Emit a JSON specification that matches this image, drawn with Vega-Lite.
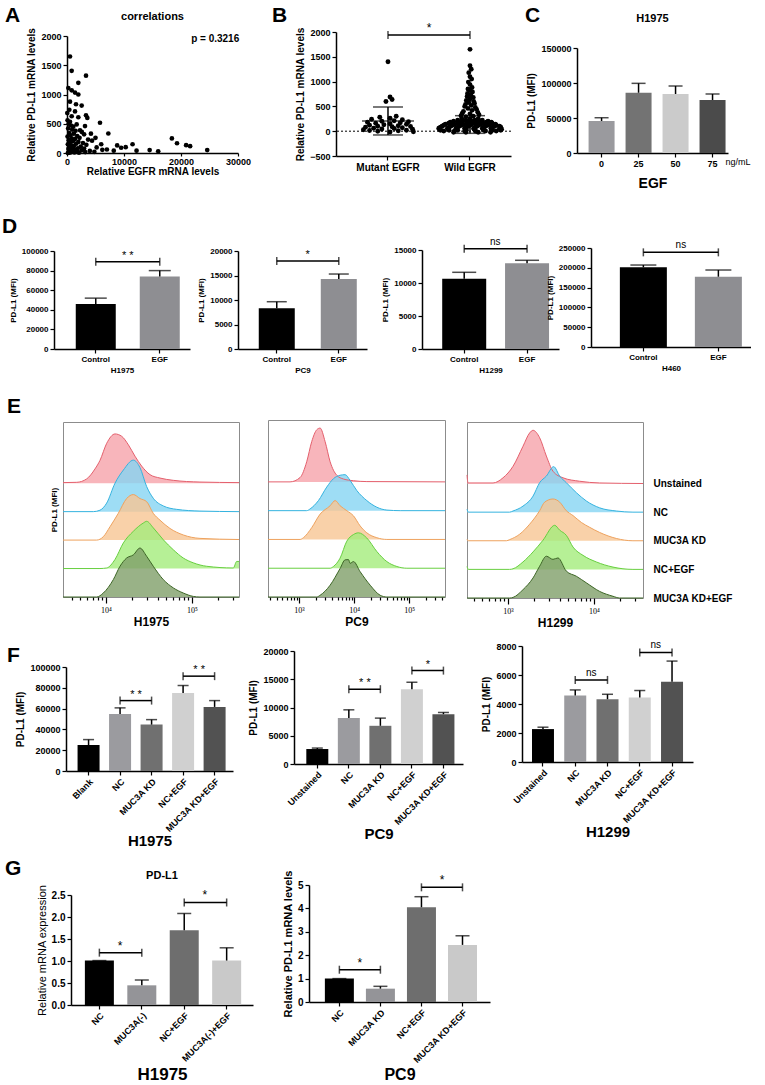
{
"$schema":"https://vega.github.io/schema/vega-lite/v6.json",
"background":"white",
"padding":0,
"spacing":0,
"bounds":"flush",
"resolve":{"scale":{"color":"independent","fill":"independent","stroke":"independent"}},
"config":{
 "font":"Liberation Sans",
 "view":{"stroke":null},
 "mark":{"color":"#000"},
 "axis":{"grid":false,"domainColor":"#000","domainWidth":1.5,"tickColor":"#000","tickWidth":1.2,"tickSize":4,"labelColor":"#000","labelFontWeight":"bold","labelFontSize":9,"titleFontWeight":"bold","titleFontSize":10,"titleColor":"#000","labelPadding":2,"titlePadding":4,"labelOverlap":false,"labelFlush":false},
 "title":{"fontWeight":"bold","color":"#000","fontSize":11},
 "text":{"color":"#000"}
},
"datasets":{
 "a_pts":[{"egfr":526,"pdl1":1650},{"egfr":820,"pdl1":1405},{"egfr":3333,"pdl1":1322},{"egfr":1988,"pdl1":1200},{"egfr":234,"pdl1":1111},{"egfr":820,"pdl1":1072},{"egfr":1404,"pdl1":1033},{"egfr":1988,"pdl1":1000},{"egfr":526,"pdl1":878},{"egfr":1579,"pdl1":833},{"egfr":2573,"pdl1":811},{"egfr":409,"pdl1":739},{"egfr":1404,"pdl1":711},{"egfr":50,"pdl1":683},{"egfr":820,"pdl1":628},{"egfr":1988,"pdl1":611},{"egfr":3333,"pdl1":644},{"egfr":3567,"pdl1":600},{"egfr":5789,"pdl1":517},{"egfr":7250,"pdl1":333},{"egfr":526,"pdl1":533},{"egfr":1696,"pdl1":489},{"egfr":3158,"pdl1":461},{"egfr":2281,"pdl1":389},{"egfr":100,"pdl1":560},{"egfr":300,"pdl1":500},{"egfr":700,"pdl1":470},{"egfr":1100,"pdl1":450},{"egfr":200,"pdl1":420},{"egfr":900,"pdl1":400},{"egfr":1500,"pdl1":380},{"egfr":2600,"pdl1":360},{"egfr":400,"pdl1":340},{"egfr":1200,"pdl1":330},{"egfr":3000,"pdl1":320},{"egfr":600,"pdl1":300},{"egfr":1800,"pdl1":290},{"egfr":100,"pdl1":280},{"egfr":2200,"pdl1":260},{"egfr":800,"pdl1":250},{"egfr":1400,"pdl1":240},{"egfr":3700,"pdl1":230},{"egfr":300,"pdl1":220},{"egfr":4400,"pdl1":210},{"egfr":1000,"pdl1":200},{"egfr":2000,"pdl1":190},{"egfr":500,"pdl1":180},{"egfr":2800,"pdl1":170},{"egfr":1600,"pdl1":160},{"egfr":150,"pdl1":150},{"egfr":3400,"pdl1":140},{"egfr":700,"pdl1":130},{"egfr":1200,"pdl1":120},{"egfr":2400,"pdl1":110},{"egfr":400,"pdl1":100},{"egfr":5200,"pdl1":95},{"egfr":900,"pdl1":90},{"egfr":1900,"pdl1":80},{"egfr":3000,"pdl1":75},{"egfr":250,"pdl1":70},{"egfr":1500,"pdl1":60},{"egfr":6200,"pdl1":55},{"egfr":600,"pdl1":50},{"egfr":2600,"pdl1":45},{"egfr":1100,"pdl1":40},{"egfr":4000,"pdl1":35},{"egfr":350,"pdl1":30},{"egfr":1800,"pdl1":25},{"egfr":800,"pdl1":20},{"egfr":3200,"pdl1":15},{"egfr":1300,"pdl1":10},{"egfr":500,"pdl1":5},{"egfr":2100,"pdl1":5},{"egfr":150,"pdl1":0},{"egfr":4800,"pdl1":20},{"egfr":7000,"pdl1":60},{"egfr":8200,"pdl1":40},{"egfr":9500,"pdl1":90},{"egfr":6000,"pdl1":150},{"egfr":5000,"pdl1":260},{"egfr":4200,"pdl1":330},{"egfr":8800,"pdl1":130},{"egfr":10300,"pdl1":100},{"egfr":11500,"pdl1":150},{"egfr":12200,"pdl1":40},{"egfr":14500,"pdl1":50},{"egfr":18400,"pdl1":250},{"egfr":19300,"pdl1":167},{"egfr":20900,"pdl1":133},{"egfr":21600,"pdl1":117},{"egfr":24600,"pdl1":50},{"egfr":16000,"pdl1":30}],
 "b_pts":[{"g":"Mutant EGFR","v":1400,"j":0},{"g":"Mutant EGFR","v":690,"j":0.05},{"g":"Mutant EGFR","v":640,"j":0.1},{"g":"Mutant EGFR","v":600,"j":-0.05},{"g":"Mutant EGFR","v":300,"j":0.2},{"g":"Mutant EGFR","v":280,"j":-0.2},{"g":"Mutant EGFR","v":260,"j":0.05},{"g":"Mutant EGFR","v":240,"j":-0.4},{"g":"Mutant EGFR","v":230,"j":0.35},{"g":"Mutant EGFR","v":210,"j":0.15},{"g":"Mutant EGFR","v":200,"j":-0.15},{"g":"Mutant EGFR","v":190,"j":0.5},{"g":"Mutant EGFR","v":180,"j":-0.5},{"g":"Mutant EGFR","v":170,"j":0.3},{"g":"Mutant EGFR","v":160,"j":-0.3},{"g":"Mutant EGFR","v":150,"j":0.05},{"g":"Mutant EGFR","v":140,"j":0.45},{"g":"Mutant EGFR","v":130,"j":-0.1},{"g":"Mutant EGFR","v":120,"j":-0.45},{"g":"Mutant EGFR","v":110,"j":0.25},{"g":"Mutant EGFR","v":100,"j":-0.25},{"g":"Mutant EGFR","v":95,"j":0.55},{"g":"Mutant EGFR","v":90,"j":0.1},{"g":"Mutant EGFR","v":80,"j":-0.55},{"g":"Mutant EGFR","v":70,"j":0.35},{"g":"Mutant EGFR","v":60,"j":-0.35},{"g":"Mutant EGFR","v":55,"j":0.15},{"g":"Mutant EGFR","v":45,"j":-0.15},{"g":"Mutant EGFR","v":40,"j":0.6},{"g":"Mutant EGFR","v":30,"j":-0.6},{"g":"Mutant EGFR","v":20,"j":0.45},{"g":"Mutant EGFR","v":15,"j":-0.45},{"g":"Mutant EGFR","v":10,"j":0.25},{"g":"Mutant EGFR","v":0,"j":-0.25},{"g":"Mutant EGFR","v":-10,"j":0.62},{"g":"Mutant EGFR","v":-15,"j":0.05},
 {"g":"Wild EGFR","v":1650,"j":0},{"g":"Wild EGFR","v":1320,"j":0},{"g":"Wild EGFR","v":1250,"j":0.03},{"g":"Wild EGFR","v":1180,"j":-0.03},{"g":"Wild EGFR","v":1100,"j":0},{"g":"Wild EGFR","v":1050,"j":0.04},{"g":"Wild EGFR","v":990,"j":-0.04},{"g":"Wild EGFR","v":940,"j":0},{"g":"Wild EGFR","v":880,"j":0.05},{"g":"Wild EGFR","v":850,"j":-0.05},{"g":"Wild EGFR","v":820,"j":0},{"g":"Wild EGFR","v":790,"j":0.06},{"g":"Wild EGFR","v":760,"j":-0.06},{"g":"Wild EGFR","v":730,"j":0.02},{"g":"Wild EGFR","v":700,"j":-0.07},{"g":"Wild EGFR","v":680,"j":0.08},{"g":"Wild EGFR","v":650,"j":0},{"g":"Wild EGFR","v":620,"j":-0.09},{"g":"Wild EGFR","v":600,"j":0.09},{"g":"Wild EGFR","v":580,"j":-0.03},{"g":"Wild EGFR","v":560,"j":0.11},{"g":"Wild EGFR","v":540,"j":-0.11},{"g":"Wild EGFR","v":520,"j":0.03},{"g":"Wild EGFR","v":500,"j":-0.13},{"g":"Wild EGFR","v":480,"j":0.13},{"g":"Wild EGFR","v":460,"j":-0.05},{"g":"Wild EGFR","v":440,"j":0.16},{"g":"Wild EGFR","v":420,"j":0.05},{"g":"Wild EGFR","v":400,"j":-0.16},{"g":"Wild EGFR","v":380,"j":0.19},{"g":"Wild EGFR","v":360,"j":-0.19},{"g":"Wild EGFR","v":350,"j":0},{"g":"Wild EGFR","v":330,"j":0.22},{"g":"Wild EGFR","v":310,"j":-0.22},{"g":"Wild EGFR","v":300,"j":0.08},{"g":"Wild EGFR","v":290,"j":-0.1},
 {"g":"Wild EGFR","v":250,"j":-0.2},{"g":"Wild EGFR","v":250,"j":0.2},{"g":"Wild EGFR","v":250,"j":0},
 {"g":"Wild EGFR","v":220,"j":-0.3},{"g":"Wild EGFR","v":220,"j":-0.1},{"g":"Wild EGFR","v":220,"j":0.12},{"g":"Wild EGFR","v":220,"j":0.3},
 {"g":"Wild EGFR","v":200,"j":-0.4},{"g":"Wild EGFR","v":200,"j":-0.18},{"g":"Wild EGFR","v":200,"j":0.04},{"g":"Wild EGFR","v":200,"j":0.26},{"g":"Wild EGFR","v":200,"j":0.44},
 {"g":"Wild EGFR","v":180,"j":-0.48},{"g":"Wild EGFR","v":180,"j":-0.26},{"g":"Wild EGFR","v":180,"j":-0.04},{"g":"Wild EGFR","v":180,"j":0.18},{"g":"Wild EGFR","v":180,"j":0.4},{"g":"Wild EGFR","v":180,"j":0.52},
 {"g":"Wild EGFR","v":160,"j":-0.52},{"g":"Wild EGFR","v":160,"j":-0.3},{"g":"Wild EGFR","v":160,"j":-0.08},{"g":"Wild EGFR","v":160,"j":0.1},{"g":"Wild EGFR","v":160,"j":0.32},{"g":"Wild EGFR","v":160,"j":0.54},
 {"g":"Wild EGFR","v":140,"j":-0.6},{"g":"Wild EGFR","v":140,"j":-0.38},{"g":"Wild EGFR","v":140,"j":-0.17},{"g":"Wild EGFR","v":140,"j":0.04},{"g":"Wild EGFR","v":140,"j":0.26},{"g":"Wild EGFR","v":140,"j":0.47},{"g":"Wild EGFR","v":140,"j":0.62},
 {"g":"Wild EGFR","v":120,"j":-0.64},{"g":"Wild EGFR","v":120,"j":-0.43},{"g":"Wild EGFR","v":120,"j":-0.21},{"g":"Wild EGFR","v":120,"j":0},{"g":"Wild EGFR","v":120,"j":0.21},{"g":"Wild EGFR","v":120,"j":0.43},{"g":"Wild EGFR","v":120,"j":0.64},
 {"g":"Wild EGFR","v":100,"j":-0.68},{"g":"Wild EGFR","v":100,"j":-0.47},{"g":"Wild EGFR","v":100,"j":-0.26},{"g":"Wild EGFR","v":100,"j":-0.04},{"g":"Wild EGFR","v":100,"j":0.17},{"g":"Wild EGFR","v":100,"j":0.38},{"g":"Wild EGFR","v":100,"j":0.6},{"g":"Wild EGFR","v":100,"j":0.72},
 {"g":"Wild EGFR","v":80,"j":-0.72},{"g":"Wild EGFR","v":80,"j":-0.51},{"g":"Wild EGFR","v":80,"j":-0.3},{"g":"Wild EGFR","v":80,"j":-0.09},{"g":"Wild EGFR","v":80,"j":0.13},{"g":"Wild EGFR","v":80,"j":0.34},{"g":"Wild EGFR","v":80,"j":0.55},{"g":"Wild EGFR","v":80,"j":0.75},
 {"g":"Wild EGFR","v":60,"j":-0.76},{"g":"Wild EGFR","v":60,"j":-0.55},{"g":"Wild EGFR","v":60,"j":-0.34},{"g":"Wild EGFR","v":60,"j":-0.13},{"g":"Wild EGFR","v":60,"j":0.09},{"g":"Wild EGFR","v":60,"j":0.3},{"g":"Wild EGFR","v":60,"j":0.51},{"g":"Wild EGFR","v":60,"j":0.72},
 {"g":"Wild EGFR","v":40,"j":-0.75},{"g":"Wild EGFR","v":40,"j":-0.53},{"g":"Wild EGFR","v":40,"j":-0.32},{"g":"Wild EGFR","v":40,"j":-0.1},{"g":"Wild EGFR","v":40,"j":0.1},{"g":"Wild EGFR","v":40,"j":0.32},{"g":"Wild EGFR","v":40,"j":0.53},{"g":"Wild EGFR","v":40,"j":0.77},
 {"g":"Wild EGFR","v":20,"j":-0.72},{"g":"Wild EGFR","v":20,"j":-0.51},{"g":"Wild EGFR","v":20,"j":-0.3},{"g":"Wild EGFR","v":20,"j":-0.09},{"g":"Wild EGFR","v":20,"j":0.13},{"g":"Wild EGFR","v":20,"j":0.34},{"g":"Wild EGFR","v":20,"j":0.55},{"g":"Wild EGFR","v":20,"j":0.75},
 {"g":"Wild EGFR","v":5,"j":-0.64},{"g":"Wild EGFR","v":5,"j":-0.38},{"g":"Wild EGFR","v":5,"j":-0.13},{"g":"Wild EGFR","v":5,"j":0.13},{"g":"Wild EGFR","v":5,"j":0.38},{"g":"Wild EGFR","v":5,"j":0.64},
 {"g":"Wild EGFR","v":-20,"j":-0.4},{"g":"Wild EGFR","v":-20,"j":-0.1},{"g":"Wild EGFR","v":-20,"j":0.2},{"g":"Wild EGFR","v":-20,"j":0.5}],
 "b_stat":[{"g":"Mutant EGFR","mean":206,"lo":-76,"hi":488},{"g":"Wild EGFR","mean":135,"lo":-43,"hi":313}],
 "b_sig":[{"a":"Mutant EGFR","b":"Wild EGFR","y":1940,"label":"*"}],
 "c_bars":[{"cat":"0","mean":45700,"upper":50400},{"cat":"25","mean":86100,"upper":99500},{"cat":"50","mean":84300,"upper":95700},{"cat":"75","mean":75700,"upper":84300}],
 "d1_bars":[{"cat":"Control","mean":45800,"upper":51900},{"cat":"EGF","mean":73900,"upper":80000}],
 "d2_bars":[{"cat":"Control","mean":8300,"upper":9650},{"cat":"EGF","mean":14290,"upper":15300}],
 "d3_bars":[{"cat":"Control","mean":10650,"upper":11620},{"cat":"EGF","mean":12980,"upper":13440}],
 "d4_bars":[{"cat":"Control","mean":201200,"upper":207000},{"cat":"EGF","mean":177500,"upper":194400}],
 "d1_sig":[{"a":"Control","b":"EGF","y":89100,"label":"* *"}],
 "d2_sig":[{"a":"Control","b":"EGF","y":17960,"label":"*"}],
 "d3_sig":[{"a":"Control","b":"EGF","y":15200,"label":"ns"}],
 "d4_sig":[{"a":"Control","b":"EGF","y":239000,"label":"ns"}],
 "e1":[
 {"g":"Unstained","x":3.5,"top":4.02,"base":4},{"g":"Unstained","x":3.659,"top":4.03,"base":4},{"g":"Unstained","x":3.775,"top":4.15,"base":4},{"g":"Unstained","x":3.872,"top":4.5,"base":4},{"g":"Unstained","x":3.93,"top":4.8,"base":4},{"g":"Unstained","x":4.008,"top":5.4,"base":4},{"g":"Unstained","x":4.105,"top":5.73,"base":4},{"g":"Unstained","x":4.182,"top":5.65,"base":4},{"g":"Unstained","x":4.26,"top":5.35,"base":4},{"g":"Unstained","x":4.337,"top":4.95,"base":4},{"g":"Unstained","x":4.415,"top":4.6,"base":4},{"g":"Unstained","x":4.512,"top":4.3,"base":4},{"g":"Unstained","x":4.628,"top":4.18,"base":4},{"g":"Unstained","x":4.783,"top":4.1,"base":4},{"g":"Unstained","x":5.093,"top":4.04,"base":4},{"g":"Unstained","x":5.547,"top":4.02,"base":4},
 {"g":"NC","x":3.5,"top":3,"base":3},{"g":"NC","x":3.853,"top":3,"base":3},{"g":"NC","x":3.93,"top":3.05,"base":3},{"g":"NC","x":4.008,"top":3.3,"base":3},{"g":"NC","x":4.105,"top":4.0,"base":3},{"g":"NC","x":4.202,"top":4.46,"base":3},{"g":"NC","x":4.318,"top":4.81,"base":3},{"g":"NC","x":4.395,"top":4.55,"base":3},{"g":"NC","x":4.473,"top":3.88,"base":3},{"g":"NC","x":4.55,"top":3.47,"base":3},{"g":"NC","x":4.667,"top":3.2,"base":3},{"g":"NC","x":4.822,"top":3.08,"base":3},{"g":"NC","x":5.093,"top":3.02,"base":3},{"g":"NC","x":5.547,"top":3,"base":3},
 {"g":"MUC3A KD","x":3.5,"top":2,"base":2},{"g":"MUC3A KD","x":3.891,"top":2,"base":2},{"g":"MUC3A KD","x":3.969,"top":2.12,"base":2},{"g":"MUC3A KD","x":4.047,"top":2.47,"base":2},{"g":"MUC3A KD","x":4.143,"top":2.94,"base":2},{"g":"MUC3A KD","x":4.24,"top":3.46,"base":2},{"g":"MUC3A KD","x":4.318,"top":3.6,"base":2},{"g":"MUC3A KD","x":4.395,"top":3.46,"base":2},{"g":"MUC3A KD","x":4.473,"top":3.35,"base":2},{"g":"MUC3A KD","x":4.55,"top":2.94,"base":2},{"g":"MUC3A KD","x":4.628,"top":2.7,"base":2},{"g":"MUC3A KD","x":4.744,"top":2.41,"base":2},{"g":"MUC3A KD","x":4.899,"top":2.18,"base":2},{"g":"MUC3A KD","x":5.093,"top":2.06,"base":2},{"g":"MUC3A KD","x":5.547,"top":2.02,"base":2},
 {"g":"NC+EGF","x":3.5,"top":1,"base":1},{"g":"NC+EGF","x":3.93,"top":1,"base":1},{"g":"NC+EGF","x":4.008,"top":1.02,"base":1},{"g":"NC+EGF","x":4.105,"top":1.32,"base":1},{"g":"NC+EGF","x":4.202,"top":1.9,"base":1},{"g":"NC+EGF","x":4.318,"top":2.31,"base":1},{"g":"NC+EGF","x":4.434,"top":2.6,"base":1},{"g":"NC+EGF","x":4.473,"top":2.66,"base":1},{"g":"NC+EGF","x":4.55,"top":2.43,"base":1},{"g":"NC+EGF","x":4.667,"top":2.01,"base":1},{"g":"NC+EGF","x":4.783,"top":1.66,"base":1},{"g":"NC+EGF","x":4.899,"top":1.37,"base":1},{"g":"NC+EGF","x":5.016,"top":1.2,"base":1},{"g":"NC+EGF","x":5.171,"top":1.08,"base":1},{"g":"NC+EGF","x":5.481,"top":1.02,"base":1},{"g":"NC+EGF","x":5.52,"top":1.25,"base":1},{"g":"NC+EGF","x":5.547,"top":1.25,"base":1},
 {"g":"MUC3A KD+EGF","x":3.5,"top":0,"base":0},{"g":"MUC3A KD+EGF","x":3.891,"top":0,"base":0},{"g":"MUC3A KD+EGF","x":3.969,"top":0.14,"base":0},{"g":"MUC3A KD+EGF","x":4.085,"top":0.61,"base":0},{"g":"MUC3A KD+EGF","x":4.163,"top":1.08,"base":0},{"g":"MUC3A KD+EGF","x":4.24,"top":1.37,"base":0},{"g":"MUC3A KD+EGF","x":4.318,"top":1.48,"base":0},{"g":"MUC3A KD+EGF","x":4.395,"top":1.72,"base":0},{"g":"MUC3A KD+EGF","x":4.473,"top":1.43,"base":0},{"g":"MUC3A KD+EGF","x":4.55,"top":1.08,"base":0},{"g":"MUC3A KD+EGF","x":4.667,"top":0.61,"base":0},{"g":"MUC3A KD+EGF","x":4.783,"top":0.32,"base":0},{"g":"MUC3A KD+EGF","x":4.899,"top":0.14,"base":0},{"g":"MUC3A KD+EGF","x":5.016,"top":0.02,"base":0},{"g":"MUC3A KD+EGF","x":5.093,"top":0,"base":0},{"g":"MUC3A KD+EGF","x":5.547,"top":0,"base":0}],
 "e2":[
 {"g":"Unstained","x":2.436,"top":4,"base":4},{"g":"Unstained","x":2.836,"top":4,"base":4},{"g":"Unstained","x":3.018,"top":4.15,"base":4},{"g":"Unstained","x":3.139,"top":4.7,"base":4},{"g":"Unstained","x":3.23,"top":5.4,"base":4},{"g":"Unstained","x":3.321,"top":5.81,"base":4},{"g":"Unstained","x":3.382,"top":5.87,"base":4},{"g":"Unstained","x":3.473,"top":5.4,"base":4},{"g":"Unstained","x":3.564,"top":4.7,"base":4},{"g":"Unstained","x":3.685,"top":4.23,"base":4},{"g":"Unstained","x":3.806,"top":4.1,"base":4},{"g":"Unstained","x":3.988,"top":4.04,"base":4},{"g":"Unstained","x":4.23,"top":4.01,"base":4},{"g":"Unstained","x":5.65,"top":4,"base":4},
 {"g":"NC","x":2.436,"top":3,"base":3},{"g":"NC","x":3.139,"top":3,"base":3},{"g":"NC","x":3.2,"top":3.06,"base":3},{"g":"NC","x":3.352,"top":3.35,"base":3},{"g":"NC","x":3.503,"top":3.82,"base":3},{"g":"NC","x":3.624,"top":4.11,"base":3},{"g":"NC","x":3.745,"top":4.23,"base":3},{"g":"NC","x":3.836,"top":4.25,"base":3},{"g":"NC","x":3.927,"top":4.05,"base":3},{"g":"NC","x":4.048,"top":3.7,"base":3},{"g":"NC","x":4.23,"top":3.35,"base":3},{"g":"NC","x":4.412,"top":3.12,"base":3},{"g":"NC","x":4.594,"top":3.02,"base":3},{"g":"NC","x":4.836,"top":3,"base":3},{"g":"NC","x":5.65,"top":3,"base":3},
 {"g":"MUC3A KD","x":2.436,"top":2,"base":2},{"g":"MUC3A KD","x":3.018,"top":2,"base":2},{"g":"MUC3A KD","x":3.079,"top":2.06,"base":2},{"g":"MUC3A KD","x":3.23,"top":2.41,"base":2},{"g":"MUC3A KD","x":3.382,"top":2.88,"base":2},{"g":"MUC3A KD","x":3.564,"top":3.17,"base":2},{"g":"MUC3A KD","x":3.655,"top":3.35,"base":2},{"g":"MUC3A KD","x":3.745,"top":3.17,"base":2},{"g":"MUC3A KD","x":3.867,"top":3.0,"base":2},{"g":"MUC3A KD","x":3.988,"top":2.82,"base":2},{"g":"MUC3A KD","x":4.109,"top":2.47,"base":2},{"g":"MUC3A KD","x":4.23,"top":2.23,"base":2},{"g":"MUC3A KD","x":4.412,"top":2.06,"base":2},{"g":"MUC3A KD","x":4.594,"top":2,"base":2},{"g":"MUC3A KD","x":5.65,"top":2,"base":2},
 {"g":"NC+EGF","x":2.436,"top":1,"base":1},{"g":"NC+EGF","x":3.564,"top":1,"base":1},{"g":"NC+EGF","x":3.624,"top":1.06,"base":1},{"g":"NC+EGF","x":3.745,"top":1.35,"base":1},{"g":"NC+EGF","x":3.867,"top":1.94,"base":1},{"g":"NC+EGF","x":3.988,"top":2.17,"base":1},{"g":"NC+EGF","x":4.079,"top":2.23,"base":1},{"g":"NC+EGF","x":4.23,"top":2.05,"base":1},{"g":"NC+EGF","x":4.412,"top":1.58,"base":1},{"g":"NC+EGF","x":4.594,"top":1.23,"base":1},{"g":"NC+EGF","x":4.776,"top":1.06,"base":1},{"g":"NC+EGF","x":4.958,"top":1,"base":1},{"g":"NC+EGF","x":5.65,"top":1,"base":1},
 {"g":"MUC3A KD+EGF","x":2.436,"top":0,"base":0},{"g":"MUC3A KD+EGF","x":3.321,"top":0,"base":0},{"g":"MUC3A KD+EGF","x":3.382,"top":0.06,"base":0},{"g":"MUC3A KD+EGF","x":3.564,"top":0.41,"base":0},{"g":"MUC3A KD+EGF","x":3.745,"top":0.99,"base":0},{"g":"MUC3A KD+EGF","x":3.836,"top":1.29,"base":0},{"g":"MUC3A KD+EGF","x":3.897,"top":1.3,"base":0},{"g":"MUC3A KD+EGF","x":3.927,"top":1.17,"base":0},{"g":"MUC3A KD+EGF","x":3.988,"top":1.23,"base":0},{"g":"MUC3A KD+EGF","x":4.109,"top":0.88,"base":0},{"g":"MUC3A KD+EGF","x":4.291,"top":0.41,"base":0},{"g":"MUC3A KD+EGF","x":4.473,"top":0.06,"base":0},{"g":"MUC3A KD+EGF","x":4.594,"top":0,"base":0},{"g":"MUC3A KD+EGF","x":5.65,"top":0,"base":0}],
 "e3":[
 {"g":"Unstained","x":2.523,"top":4.3,"base":4},{"g":"Unstained","x":2.535,"top":4.02,"base":4},{"g":"Unstained","x":2.826,"top":4.02,"base":4},{"g":"Unstained","x":2.942,"top":4.2,"base":4},{"g":"Unstained","x":3.058,"top":4.6,"base":4},{"g":"Unstained","x":3.174,"top":5.3,"base":4},{"g":"Unstained","x":3.252,"top":5.77,"base":4},{"g":"Unstained","x":3.291,"top":5.86,"base":4},{"g":"Unstained","x":3.368,"top":5.6,"base":4},{"g":"Unstained","x":3.446,"top":4.96,"base":4},{"g":"Unstained","x":3.523,"top":4.43,"base":4},{"g":"Unstained","x":3.64,"top":4.2,"base":4},{"g":"Unstained","x":3.833,"top":4.08,"base":4},{"g":"Unstained","x":4.066,"top":4.02,"base":4},{"g":"Unstained","x":4.57,"top":4,"base":4},
 {"g":"NC","x":2.523,"top":3.1,"base":3},{"g":"NC","x":2.54,"top":3,"base":3},{"g":"NC","x":3.019,"top":3,"base":3},{"g":"NC","x":3.058,"top":3.04,"base":3},{"g":"NC","x":3.174,"top":3.21,"base":3},{"g":"NC","x":3.291,"top":3.56,"base":3},{"g":"NC","x":3.368,"top":4.03,"base":3},{"g":"NC","x":3.446,"top":4.26,"base":3},{"g":"NC","x":3.531,"top":4.59,"base":3},{"g":"NC","x":3.601,"top":4.26,"base":3},{"g":"NC","x":3.678,"top":4.03,"base":3},{"g":"NC","x":3.795,"top":3.68,"base":3},{"g":"NC","x":3.911,"top":3.39,"base":3},{"g":"NC","x":4.066,"top":3.15,"base":3},{"g":"NC","x":4.26,"top":3.04,"base":3},{"g":"NC","x":4.453,"top":3,"base":3},{"g":"NC","x":4.57,"top":3,"base":3},
 {"g":"MUC3A KD","x":2.523,"top":2.05,"base":2},{"g":"MUC3A KD","x":2.54,"top":2,"base":2},{"g":"MUC3A KD","x":2.981,"top":2,"base":2},{"g":"MUC3A KD","x":3.019,"top":2.04,"base":2},{"g":"MUC3A KD","x":3.136,"top":2.23,"base":2},{"g":"MUC3A KD","x":3.252,"top":2.58,"base":2},{"g":"MUC3A KD","x":3.368,"top":3.05,"base":2},{"g":"MUC3A KD","x":3.426,"top":3.35,"base":2},{"g":"MUC3A KD","x":3.523,"top":3.46,"base":2},{"g":"MUC3A KD","x":3.601,"top":3.35,"base":2},{"g":"MUC3A KD","x":3.678,"top":3.05,"base":2},{"g":"MUC3A KD","x":3.756,"top":2.88,"base":2},{"g":"MUC3A KD","x":3.853,"top":2.64,"base":2},{"g":"MUC3A KD","x":3.95,"top":2.47,"base":2},{"g":"MUC3A KD","x":4.066,"top":2.29,"base":2},{"g":"MUC3A KD","x":4.26,"top":2.08,"base":2},{"g":"MUC3A KD","x":4.453,"top":2,"base":2},{"g":"MUC3A KD","x":4.57,"top":2,"base":2},
 {"g":"NC+EGF","x":2.523,"top":1.1,"base":1},{"g":"NC+EGF","x":2.54,"top":1,"base":1},{"g":"NC+EGF","x":3.019,"top":1,"base":1},{"g":"NC+EGF","x":3.058,"top":1.02,"base":1},{"g":"NC+EGF","x":3.174,"top":1.26,"base":1},{"g":"NC+EGF","x":3.291,"top":1.61,"base":1},{"g":"NC+EGF","x":3.407,"top":2.02,"base":1},{"g":"NC+EGF","x":3.543,"top":2.54,"base":1},{"g":"NC+EGF","x":3.601,"top":2.37,"base":1},{"g":"NC+EGF","x":3.678,"top":2.19,"base":1},{"g":"NC+EGF","x":3.756,"top":1.78,"base":1},{"g":"NC+EGF","x":3.872,"top":1.49,"base":1},{"g":"NC+EGF","x":4.027,"top":1.26,"base":1},{"g":"NC+EGF","x":4.221,"top":1.08,"base":1},{"g":"NC+EGF","x":4.453,"top":1,"base":1},{"g":"NC+EGF","x":4.57,"top":1,"base":1},
 {"g":"MUC3A KD+EGF","x":2.523,"top":0,"base":0},{"g":"MUC3A KD+EGF","x":3.019,"top":0,"base":0},{"g":"MUC3A KD+EGF","x":3.058,"top":0.02,"base":0},{"g":"MUC3A KD+EGF","x":3.174,"top":0.29,"base":0},{"g":"MUC3A KD+EGF","x":3.291,"top":0.7,"base":0},{"g":"MUC3A KD+EGF","x":3.368,"top":1.11,"base":0},{"g":"MUC3A KD+EGF","x":3.446,"top":1.46,"base":0},{"g":"MUC3A KD+EGF","x":3.523,"top":1.35,"base":0},{"g":"MUC3A KD+EGF","x":3.581,"top":1.4,"base":0},{"g":"MUC3A KD+EGF","x":3.678,"top":0.94,"base":0},{"g":"MUC3A KD+EGF","x":3.795,"top":0.76,"base":0},{"g":"MUC3A KD+EGF","x":3.911,"top":0.53,"base":0},{"g":"MUC3A KD+EGF","x":4.066,"top":0.23,"base":0},{"g":"MUC3A KD+EGF","x":4.221,"top":0.06,"base":0},{"g":"MUC3A KD+EGF","x":4.298,"top":0,"base":0},{"g":"MUC3A KD+EGF","x":4.57,"top":0,"base":0}],
 "f1_bars":[{"cat":"Blank","mean":25000,"upper":30200},{"cat":"NC","mean":54900,"upper":60700},{"cat":"MUC3A KD","mean":44600,"upper":49400},{"cat":"NC+EGF","mean":75100,"upper":82200},{"cat":"MUC3A KD+EGF","mean":61600,"upper":67700}],
 "f2_bars":[{"cat":"Unstained","mean":2650,"upper":2820},{"cat":"NC","mean":8120,"upper":9590},{"cat":"MUC3A KD","mean":6760,"upper":8120},{"cat":"NC+EGF","mean":13240,"upper":14470},{"cat":"MUC3A KD+EGF","mean":8820,"upper":9120}],
 "f3_bars":[{"cat":"Unstained","mean":2270,"upper":2400},{"cat":"NC","mean":4580,"upper":4970},{"cat":"MUC3A KD","mean":4330,"upper":4670},{"cat":"NC+EGF","mean":4440,"upper":4930},{"cat":"MUC3A KD+EGF","mean":5540,"upper":6960}],
 "f1_sig":[{"a":"NC","b":"MUC3A KD","y":67700,"label":"* *"},{"a":"NC+EGF","b":"MUC3A KD+EGF","y":91200,"label":"* *"}],
 "f2_sig":[{"a":"NC","b":"MUC3A KD","y":13240,"label":"* *"},{"a":"NC+EGF","b":"MUC3A KD+EGF","y":16530,"label":"*"}],
 "f3_sig":[{"a":"NC","b":"MUC3A KD","y":5660,"label":"ns"},{"a":"NC+EGF","b":"MUC3A KD+EGF","y":7560,"label":"ns"}],
 "g1_bars":[{"cat":"NC","mean":1.01,"upper":1.01},{"cat":"MUC3A(-)","mean":0.447,"upper":0.568},{"cat":"NC+EGF","mean":1.7,"upper":2.08},{"cat":"MUC3A(-)+EGF","mean":1.01,"upper":1.3}],
 "g2_bars":[{"cat":"NC","mean":1.0,"upper":1.0},{"cat":"MUC3A KD","mean":0.57,"upper":0.67},{"cat":"NC+EGF","mean":4.05,"upper":4.5},{"cat":"MUC3A KD+EGF","mean":2.44,"upper":2.83}],
 "g1_sig":[{"a":"NC","b":"MUC3A(-)","y":1.19,"label":"*"},{"a":"NC+EGF","b":"MUC3A(-)+EGF","y":2.33,"label":"*"}],
 "g2_sig":[{"a":"NC","b":"MUC3A KD","y":1.38,"label":"*"},{"a":"NC+EGF","b":"MUC3A KD+EGF","y":4.9,"label":"*"}]
},
"vconcat":[
 {"columns":2,"spacing":0,"bounds":"flush","align":"each","concat":[{"width":5,"height":43,"data":{"values":[]},"mark":"point"},{"width":1,"height":1,"data":{"values":[]},"mark":"point"},{"width":1,"height":1,"data":{"values":[]},"mark":"point"},
  {"width":1,"height":1,"data":{"values":[]},"mark":"point","title":{"text":"A","anchor":"start","frame":"group","offset":0,"baseline":"alphabetic","fontSize":21}}]},
 {"columns":2,"spacing":0,"bounds":"flush","align":"each","concat":[{"width":272,"height":43,"data":{"values":[]},"mark":"point"},{"width":1,"height":1,"data":{"values":[]},"mark":"point"},{"width":1,"height":1,"data":{"values":[]},"mark":"point"},
  {"width":1,"height":1,"data":{"values":[]},"mark":"point","title":{"text":"B","anchor":"start","frame":"group","offset":0,"baseline":"alphabetic","fontSize":21}}]},
 {"columns":2,"spacing":0,"bounds":"flush","align":"each","concat":[{"width":525,"height":43,"data":{"values":[]},"mark":"point"},{"width":1,"height":1,"data":{"values":[]},"mark":"point"},{"width":1,"height":1,"data":{"values":[]},"mark":"point"},
  {"width":1,"height":1,"data":{"values":[]},"mark":"point","title":{"text":"C","anchor":"start","frame":"group","offset":0,"baseline":"alphabetic","fontSize":21}}]},
 {"columns":2,"spacing":0,"bounds":"flush","align":"each","concat":[{"width":2,"height":254,"data":{"values":[]},"mark":"point"},{"width":1,"height":1,"data":{"values":[]},"mark":"point"},{"width":1,"height":1,"data":{"values":[]},"mark":"point"},
  {"width":1,"height":1,"data":{"values":[]},"mark":"point","title":{"text":"D","anchor":"start","frame":"group","offset":0,"baseline":"alphabetic","fontSize":21}}]},
 {"columns":2,"spacing":0,"bounds":"flush","align":"each","concat":[{"width":7,"height":434,"data":{"values":[]},"mark":"point"},{"width":1,"height":1,"data":{"values":[]},"mark":"point"},{"width":1,"height":1,"data":{"values":[]},"mark":"point"},
  {"width":1,"height":1,"data":{"values":[]},"mark":"point","title":{"text":"E","anchor":"start","frame":"group","offset":0,"baseline":"alphabetic","fontSize":21}}]},
 {"columns":2,"spacing":0,"bounds":"flush","align":"each","concat":[{"width":7,"height":683,"data":{"values":[]},"mark":"point"},{"width":1,"height":1,"data":{"values":[]},"mark":"point"},{"width":1,"height":1,"data":{"values":[]},"mark":"point"},
  {"width":1,"height":1,"data":{"values":[]},"mark":"point","title":{"text":"F","anchor":"start","frame":"group","offset":0,"baseline":"alphabetic","fontSize":21}}]},
 {"columns":2,"spacing":0,"bounds":"flush","align":"each","concat":[{"width":5,"height":896,"data":{"values":[]},"mark":"point"},{"width":1,"height":1,"data":{"values":[]},"mark":"point"},{"width":1,"height":1,"data":{"values":[]},"mark":"point"},
  {"width":1,"height":1,"data":{"values":[]},"mark":"point","title":{"text":"G","anchor":"start","frame":"group","offset":0,"baseline":"alphabetic","fontSize":21}}]},

 {"columns":2,"spacing":0,"bounds":"flush","align":"each","resolve":{"scale":{"color":"independent"}},"concat":[{"width":67,"height":36,"data":{"values":[]},"mark":"point"},{"width":1,"height":1,"data":{"values":[]},"mark":"point"},{"width":1,"height":1,"data":{"values":[]},"mark":"point"},
 {"width":171,"height":117,
  "title":{"text":"correlations","fontSize":11,"offset":6},
  "layer":[
   {"data":{"name":"a_pts"},"mark":{"type":"circle","size":22,"color":"#000","opacity":1},
    "encoding":{"x":{"field":"egfr","type":"quantitative","scale":{"domain":[0,30000],"nice":false},"axis":{"values":[0,10000,20000,30000],"tickCount":100,"format":"d","title":"Relative EGFR mRNA levels","titlePadding":0,"labelPadding":1,"tickSize":3,"labelOverlap":false,"labelFlush":false}},
                "y":{"field":"pdl1","type":"quantitative","scale":{"domain":[0,2000],"nice":false},"axis":{"values":[0,500,1000,1500,2000],"tickCount":100,"format":"d","title":"Relative PD-L1 mRNA levels","labelOverlap":false,"labelFlush":false}}}},
   {"data":{"values":[{"p":"p = 0.3216"}]},"mark":{"type":"text","fontSize":10,"fontWeight":"bold"},
    "encoding":{"x":{"datum":26000},"y":{"datum":1950},"text":{"field":"p"}}}
  ]}]},

 {"columns":2,"spacing":0,"bounds":"flush","align":"each","resolve":{"scale":{"color":"independent"}},"concat":[{"width":336,"height":32,"data":{"values":[]},"mark":"point"},{"width":1,"height":1,"data":{"values":[]},"mark":"point"},{"width":1,"height":1,"data":{"values":[]},"mark":"point"},
 {"width":175,"height":124,
  "layer":[
   {"data":{"values":[{"z":0}]},"mark":{"type":"rule","strokeDash":[2,2],"strokeWidth":1,"color":"#000"},"encoding":{"y":{"field":"z","type":"quantitative"}}},
   {"data":{"name":"b_pts"},"mark":{"type":"circle","size":24,"color":"#000","opacity":1},
    "encoding":{"x":{"field":"g","type":"nominal","scale":{"domain":["Mutant EGFR","Wild EGFR"],"paddingInner":0,"paddingOuter":0.067,"align":1},"axis":{"title":null,"labelFontSize":10,"labelAngle":0}},
                "xOffset":{"field":"j","type":"quantitative","scale":{"domain":[-1,1]}},
                "y":{"field":"v","type":"quantitative","scale":{"domain":[-500,2000],"nice":false},"axis":{"values":[-500,0,500,1000,1500,2000],"tickCount":100,"format":"d","title":"Relative PD-L1 mRNA levels","labelOverlap":false,"labelFlush":false}}}},
   {"data":{"name":"b_stat"},"mark":{"type":"rule","strokeWidth":1.5},"encoding":{"x":{"field":"g","type":"nominal"},"y":{"field":"lo","type":"quantitative"},"y2":{"field":"hi"}}},
   {"data":{"name":"b_stat"},"mark":{"type":"tick","orient":"horizontal","size":52,"thickness":1.5,"color":"#000"},"encoding":{"x":{"field":"g","type":"nominal"},"y":{"field":"mean","type":"quantitative"}}},
   {"data":{"name":"b_stat"},"mark":{"type":"tick","orient":"horizontal","size":30,"thickness":1.5,"color":"#000"},"encoding":{"x":{"field":"g","type":"nominal"},"y":{"field":"hi","type":"quantitative"}}},
   {"data":{"name":"b_stat"},"mark":{"type":"tick","orient":"horizontal","size":30,"thickness":1.5,"color":"#000"},"encoding":{"x":{"field":"g","type":"nominal"},"y":{"field":"lo","type":"quantitative"}}},
   {"data":{"name":"b_sig"},"mark":{"type":"rule","strokeWidth":1.5},"encoding":{"x":{"field":"a","type":"nominal"},"x2":{"field":"b"},"y":{"field":"y","type":"quantitative"}}},
   {"data":{"name":"b_sig"},"mark":{"type":"tick","orient":"vertical","size":8,"thickness":1.5,"color":"#000"},"encoding":{"x":{"field":"a","type":"nominal"},"y":{"field":"y","type":"quantitative"}}},
   {"data":{"name":"b_sig"},"mark":{"type":"tick","orient":"vertical","size":8,"thickness":1.5,"color":"#000"},"encoding":{"x":{"field":"b","type":"nominal"},"y":{"field":"y","type":"quantitative"}}},
   {"data":{"name":"b_sig"},"mark":{"type":"text","dy":-3,"fontSize":12,"baseline":"alphabetic"},"encoding":{"x":{"field":"a","type":"nominal","bandPosition":1},"y":{"field":"y","type":"quantitative"},"text":{"field":"label"}}}
  ]}]},

 {"columns":2,"spacing":0,"bounds":"flush","align":"each","resolve":{"scale":{"color":"independent"}},"concat":[{"width":577,"height":48,"data":{"values":[]},"mark":"point"},{"width":1,"height":1,"data":{"values":[]},"mark":"point"},{"width":1,"height":1,"data":{"values":[]},"mark":"point"},
 {"width":151,"height":105,
  "title":{"text":"H1975","fontSize":11,"offset":20},
  "data":{"name":"c_bars"},
  "layer":[
   {"mark":{"type":"bar","width":26},"encoding":{"x":{"field":"cat","type":"nominal","scale":{"type":"band","domain":["0","25","50","75"],"paddingInner":0.27,"paddingOuter":0.176,"align":0.85},"axis":{"title":"EGF","titleFontSize":14,"titlePadding":8,"labelAngle":0}},
     "y":{"field":"mean","type":"quantitative","scale":{"domain":[0,150000],"nice":false},"axis":{"values":[0,50000,100000,150000],"tickCount":100,"format":"d","title":"PD-L1 (MFI)","labelOverlap":false,"labelFlush":false}},
     "color":{"field":"cat","type":"nominal","scale":{"domain":["0","25","50","75"],"range":["#9a9a9e","#737373","#cbcbcb","#4b4b4b"]},"legend":null}}},
   {"mark":{"type":"rule","strokeWidth":1.5},"encoding":{"x":{"field":"cat","type":"nominal"},"y":{"field":"mean","type":"quantitative"},"y2":{"field":"upper"}}},
   {"mark":{"type":"tick","orient":"horizontal","size":14,"thickness":1.5,"color":"#000"},"encoding":{"x":{"field":"cat","type":"nominal"},"y":{"field":"upper","type":"quantitative"}}},
   {"data":{"values":[{"unit":"ng/mL"}]},"mark":{"type":"text","align":"left","baseline":"top","dx":13,"dy":5,"fontSize":9},"encoding":{"x":{"datum":"75"},"y":{"datum":0},"text":{"field":"unit"}}}
  ]}]},

 {"columns":2,"spacing":0,"bounds":"flush","align":"each","resolve":{"scale":{"color":"independent"}},"concat":[{"width":54,"height":251,"data":{"values":[]},"mark":"point"},{"width":1,"height":1,"data":{"values":[]},"mark":"point"},{"width":1,"height":1,"data":{"values":[]},"mark":"point"},
 {"width":136,"height":98,"data":{"name":"d1_bars"},
  "layer":[
   {"mark":{"type":"bar","width":40},"encoding":{"x":{"field":"cat","type":"nominal","scale":{"type":"band","domain":["Control","EGF"],"paddingInner":0.375,"paddingOuter":0.25,"align":0.68},"axis":{"title":"H1975","labelFontSize":8,"titleFontSize":8,"titlePadding":3,"labelAngle":0}},
     "y":{"field":"mean","type":"quantitative","scale":{"domain":[0,100000],"nice":false},"axis":{"values":[0,20000,40000,60000,80000,100000],"tickCount":100,"format":"d","title":"PD-L1 (MFI)","labelFontSize":8,"titleFontSize":8,"labelOverlap":false,"labelFlush":false}},
     "color":{"field":"cat","type":"nominal","scale":{"domain":["Control","EGF"],"range":["#000000","#8e8e92"]},"legend":null}}},
   {"mark":{"type":"rule","strokeWidth":1.5},"encoding":{"x":{"field":"cat","type":"nominal"},"y":{"field":"mean","type":"quantitative"},"y2":{"field":"upper"}}},
   {"mark":{"type":"tick","orient":"horizontal","size":22,"thickness":1.5,"color":"#000"},"encoding":{"x":{"field":"cat","type":"nominal"},"y":{"field":"upper","type":"quantitative"}}},
   {"data":{"name":"d1_sig"},"mark":{"type":"rule","strokeWidth":1.5},"encoding":{"x":{"field":"a","type":"nominal"},"x2":{"field":"b"},"y":{"field":"y","type":"quantitative"}}},
   {"data":{"name":"d1_sig"},"mark":{"type":"tick","orient":"vertical","size":8,"thickness":1.5,"color":"#000"},"encoding":{"x":{"field":"a","type":"nominal"},"y":{"field":"y","type":"quantitative"}}},
   {"data":{"name":"d1_sig"},"mark":{"type":"tick","orient":"vertical","size":8,"thickness":1.5,"color":"#000"},"encoding":{"x":{"field":"b","type":"nominal"},"y":{"field":"y","type":"quantitative"}}},
   {"data":{"name":"d1_sig"},"mark":{"type":"text","dx":12,"dy":-3,"fontSize":11,"baseline":"alphabetic"},"encoding":{"x":{"field":"a","type":"nominal","bandPosition":1},"y":{"field":"y","type":"quantitative"},"text":{"field":"label"}}}
  ]}]},

 {"columns":2,"spacing":0,"bounds":"flush","align":"each","resolve":{"scale":{"color":"independent"}},"concat":[{"width":238,"height":251,"data":{"values":[]},"mark":"point"},{"width":1,"height":1,"data":{"values":[]},"mark":"point"},{"width":1,"height":1,"data":{"values":[]},"mark":"point"},
 {"width":129,"height":98,"data":{"name":"d2_bars"},
  "layer":[
   {"mark":{"type":"bar","width":36},"encoding":{"x":{"field":"cat","type":"nominal","scale":{"type":"band","domain":["Control","EGF"],"paddingInner":0.42,"paddingOuter":0.25,"align":0.67},"axis":{"title":"PC9","labelFontSize":8,"titleFontSize":8,"titlePadding":3,"labelAngle":0}},
     "y":{"field":"mean","type":"quantitative","scale":{"domain":[0,20000],"nice":false},"axis":{"values":[0,5000,10000,15000,20000],"tickCount":100,"format":"d","title":"PD-L1 (MFI)","labelFontSize":8,"titleFontSize":8,"labelOverlap":false,"labelFlush":false}},
     "color":{"field":"cat","type":"nominal","scale":{"domain":["Control","EGF"],"range":["#000000","#8e8e92"]},"legend":null}}},
   {"mark":{"type":"rule","strokeWidth":1.5},"encoding":{"x":{"field":"cat","type":"nominal"},"y":{"field":"mean","type":"quantitative"},"y2":{"field":"upper"}}},
   {"mark":{"type":"tick","orient":"horizontal","size":20,"thickness":1.5,"color":"#000"},"encoding":{"x":{"field":"cat","type":"nominal"},"y":{"field":"upper","type":"quantitative"}}},
   {"data":{"name":"d2_sig"},"mark":{"type":"rule","strokeWidth":1.5},"encoding":{"x":{"field":"a","type":"nominal"},"x2":{"field":"b"},"y":{"field":"y","type":"quantitative"}}},
   {"data":{"name":"d2_sig"},"mark":{"type":"tick","orient":"vertical","size":8,"thickness":1.5,"color":"#000"},"encoding":{"x":{"field":"a","type":"nominal"},"y":{"field":"y","type":"quantitative"}}},
   {"data":{"name":"d2_sig"},"mark":{"type":"tick","orient":"vertical","size":8,"thickness":1.5,"color":"#000"},"encoding":{"x":{"field":"b","type":"nominal"},"y":{"field":"y","type":"quantitative"}}},
   {"data":{"name":"d2_sig"},"mark":{"type":"text","dx":13,"dy":-3,"fontSize":11,"baseline":"alphabetic"},"encoding":{"x":{"field":"a","type":"nominal","bandPosition":1},"y":{"field":"y","type":"quantitative"},"text":{"field":"label"}}}
  ]}]},

 {"columns":2,"spacing":0,"bounds":"flush","align":"each","resolve":{"scale":{"color":"independent"}},"concat":[{"width":422,"height":250,"data":{"values":[]},"mark":"point"},{"width":1,"height":1,"data":{"values":[]},"mark":"point"},{"width":1,"height":1,"data":{"values":[]},"mark":"point"},
 {"width":137,"height":99,"data":{"name":"d3_bars"},
  "layer":[
   {"mark":{"type":"bar","width":44},"encoding":{"x":{"field":"cat","type":"nominal","scale":{"type":"band","domain":["Control","EGF"],"paddingInner":0.3,"paddingOuter":0.24,"align":0.67},"axis":{"title":"H1299","labelFontSize":8,"titleFontSize":8,"titlePadding":3,"labelAngle":0}},
     "y":{"field":"mean","type":"quantitative","scale":{"domain":[0,15000],"nice":false},"axis":{"values":[0,5000,10000,15000],"tickCount":100,"format":"d","title":"PD-L1 (MFI)","labelFontSize":8,"titleFontSize":8,"labelOverlap":false,"labelFlush":false}},
     "color":{"field":"cat","type":"nominal","scale":{"domain":["Control","EGF"],"range":["#000000","#8e8e92"]},"legend":null}}},
   {"mark":{"type":"rule","strokeWidth":1.5},"encoding":{"x":{"field":"cat","type":"nominal"},"y":{"field":"mean","type":"quantitative"},"y2":{"field":"upper"}}},
   {"mark":{"type":"tick","orient":"horizontal","size":24,"thickness":1.5,"color":"#000"},"encoding":{"x":{"field":"cat","type":"nominal"},"y":{"field":"upper","type":"quantitative"}}},
   {"data":{"name":"d3_sig"},"mark":{"type":"rule","strokeWidth":1.5},"encoding":{"x":{"field":"a","type":"nominal"},"x2":{"field":"b"},"y":{"field":"y","type":"quantitative"}}},
   {"data":{"name":"d3_sig"},"mark":{"type":"tick","orient":"vertical","size":8,"thickness":1.5,"color":"#000"},"encoding":{"x":{"field":"a","type":"nominal"},"y":{"field":"y","type":"quantitative"}}},
   {"data":{"name":"d3_sig"},"mark":{"type":"tick","orient":"vertical","size":8,"thickness":1.5,"color":"#000"},"encoding":{"x":{"field":"b","type":"nominal"},"y":{"field":"y","type":"quantitative"}}},
   {"data":{"name":"d3_sig"},"mark":{"type":"text","dx":9,"dy":-4,"fontSize":10,"baseline":"alphabetic"},"encoding":{"x":{"field":"a","type":"nominal","bandPosition":1},"y":{"field":"y","type":"quantitative"},"text":{"field":"label"}}}
  ]}]},

 {"columns":2,"spacing":0,"bounds":"flush","align":"each","resolve":{"scale":{"color":"independent"}},"concat":[{"width":591,"height":248,"data":{"values":[]},"mark":"point"},{"width":1,"height":1,"data":{"values":[]},"mark":"point"},{"width":1,"height":1,"data":{"values":[]},"mark":"point"},
 {"width":160,"height":99,"data":{"name":"d4_bars"},
  "layer":[
   {"mark":{"type":"bar","width":47},"encoding":{"x":{"field":"cat","type":"nominal","scale":{"type":"band","domain":["Control","EGF"],"paddingInner":0.373,"paddingOuter":0.253,"align":0.76},"axis":{"title":"H460","labelFontSize":8,"titleFontSize":8,"titlePadding":3,"labelAngle":0}},
     "y":{"field":"mean","type":"quantitative","scale":{"domain":[0,250000],"nice":false},"axis":{"values":[0,50000,100000,150000,200000,250000],"tickCount":100,"format":"d","title":"PD-L1 (MFI)","labelFontSize":8,"titleFontSize":8,"labelOverlap":false,"labelFlush":false}},
     "color":{"field":"cat","type":"nominal","scale":{"domain":["Control","EGF"],"range":["#000000","#8e8e92"]},"legend":null}}},
   {"mark":{"type":"rule","strokeWidth":1.5},"encoding":{"x":{"field":"cat","type":"nominal"},"y":{"field":"mean","type":"quantitative"},"y2":{"field":"upper"}}},
   {"mark":{"type":"tick","orient":"horizontal","size":26,"thickness":1.5,"color":"#000"},"encoding":{"x":{"field":"cat","type":"nominal"},"y":{"field":"upper","type":"quantitative"}}},
   {"data":{"name":"d4_sig"},"mark":{"type":"rule","strokeWidth":1.5},"encoding":{"x":{"field":"a","type":"nominal"},"x2":{"field":"b"},"y":{"field":"y","type":"quantitative"}}},
   {"data":{"name":"d4_sig"},"mark":{"type":"tick","orient":"vertical","size":8,"thickness":1.5,"color":"#000"},"encoding":{"x":{"field":"a","type":"nominal"},"y":{"field":"y","type":"quantitative"}}},
   {"data":{"name":"d4_sig"},"mark":{"type":"tick","orient":"vertical","size":8,"thickness":1.5,"color":"#000"},"encoding":{"x":{"field":"b","type":"nominal"},"y":{"field":"y","type":"quantitative"}}},
   {"data":{"name":"d4_sig"},"mark":{"type":"text","dx":14,"dy":-4,"fontSize":10,"baseline":"alphabetic"},"encoding":{"x":{"field":"a","type":"nominal","bandPosition":1},"y":{"field":"y","type":"quantitative"},"text":{"field":"label"}}}
  ]}]},

 {"columns":2,"spacing":0,"bounds":"flush","align":"each","resolve":{"scale":{"fill":"independent","stroke":"independent"}},"concat":[{"width":63,"height":422,"data":{"values":[]},"mark":"point"},{"width":1,"height":1,"data":{"values":[]},"mark":"point"},{"width":1,"height":1,"data":{"values":[]},"mark":"point"},
 {"width":176,"height":175,"view":{"stroke":"#8c8c8c"},"data":{"name":"e1"},
  "layer":[
   {"mark":{"type":"area","interpolate":"monotone","fillOpacity":0.8},
    "encoding":{"x":{"field":"x","type":"quantitative","scale":{"domain":[3.5,5.547],"nice":false,"zero":false},
       "axis":{"values":[3.602,3.699,3.778,3.845,3.903,3.954,4,4.301,4.477,4.602,4.699,4.778,4.845,4.903,4.954,5,5.301,5.477],"tickCount":100,"labelExpr":"datum.value==4?'10⁴':datum.value==5?'10⁵':''","tickSize":{"condition":{"test":"datum.value==4||datum.value==5","value":6},"value":3},"domain":false,"title":"H1975","titleFontSize":12,"labelFontWeight":"normal","labelFontSize":8,"labelFont":"Liberation Serif","labelPadding":3,"titlePadding":2,"labelOverlap":false,"labelFlush":false}},
     "y":{"field":"top","type":"quantitative","scale":{"domain":[0,6.15],"nice":false},"axis":{"title":"PD-L1 (MFI)","labels":false,"ticks":false,"domain":false,"titleFontSize":8,"titlePadding":5}},
     "y2":{"field":"base"},
     "fill":{"field":"g","type":"nominal","scale":{"domain":["Unstained","NC","MUC3A KD","NC+EGF","MUC3A KD+EGF"],"range":["#f6a3aa","#86d5f2","#f8c594","#a4ec7c","#809f69"]},"legend":null}}},
   {"mark":{"type":"line","interpolate":"monotone","strokeWidth":1},
    "encoding":{"x":{"field":"x","type":"quantitative"},"y":{"field":"top","type":"quantitative"},
     "stroke":{"field":"g","type":"nominal","scale":{"domain":["Unstained","NC","MUC3A KD","NC+EGF","MUC3A KD+EGF"],"range":["#e4606d","#35b3df","#eea25e","#68cf40","#3d6626"]},"legend":null}}}
  ]}]},

 {"columns":2,"spacing":0,"bounds":"flush","align":"each","resolve":{"scale":{"fill":"independent","stroke":"independent"}},"concat":[{"width":268,"height":420,"data":{"values":[]},"mark":"point"},{"width":1,"height":1,"data":{"values":[]},"mark":"point"},{"width":1,"height":1,"data":{"values":[]},"mark":"point"},
 {"width":177,"height":177,"view":{"stroke":"#8c8c8c"},"data":{"name":"e2"},
  "layer":[
   {"mark":{"type":"area","interpolate":"monotone","fillOpacity":0.8},
    "encoding":{"x":{"field":"x","type":"quantitative","scale":{"domain":[2.436,5.65],"nice":false,"zero":false},
       "axis":{"values":[2.477,2.602,2.699,2.778,2.845,2.903,2.954,3,3.301,3.477,3.602,3.699,3.778,3.845,3.903,3.954,4,4.301,4.477,4.602,4.699,4.778,4.845,4.903,4.954,5,5.301,5.477,5.602],"tickCount":100,"labelExpr":"datum.value==3?'10³':datum.value==4?'10⁴':datum.value==5?'10⁵':''","tickSize":{"condition":{"test":"datum.value==3||datum.value==4||datum.value==5","value":6},"value":3},"domain":false,"title":"PC9","titleFontSize":12,"labelFontWeight":"normal","labelFontSize":8,"labelFont":"Liberation Serif","labelPadding":3,"titlePadding":2,"labelOverlap":false,"labelFlush":false}},
     "y":{"field":"top","type":"quantitative","scale":{"domain":[0,6.15],"nice":false},"axis":null},
     "y2":{"field":"base"},
     "fill":{"field":"g","type":"nominal","scale":{"domain":["Unstained","NC","MUC3A KD","NC+EGF","MUC3A KD+EGF"],"range":["#f6a3aa","#86d5f2","#f8c594","#a4ec7c","#809f69"]},"legend":null}}},
   {"mark":{"type":"line","interpolate":"monotone","strokeWidth":1},
    "encoding":{"x":{"field":"x","type":"quantitative"},"y":{"field":"top","type":"quantitative"},
     "stroke":{"field":"g","type":"nominal","scale":{"domain":["Unstained","NC","MUC3A KD","NC+EGF","MUC3A KD+EGF"],"range":["#e4606d","#35b3df","#eea25e","#68cf40","#3d6626"]},"legend":null}}}
  ]}]},

 {"columns":2,"spacing":0,"bounds":"flush","align":"each","resolve":{"scale":{"fill":"independent","stroke":"independent"}},"concat":[{"width":467,"height":422,"data":{"values":[]},"mark":"point"},{"width":1,"height":1,"data":{"values":[]},"mark":"point"},{"width":1,"height":1,"data":{"values":[]},"mark":"point"},
 {"width":176,"height":176,"view":{"stroke":"#8c8c8c"},"data":{"name":"e3"},
  "layer":[
   {"mark":{"type":"area","interpolate":"monotone","fillOpacity":0.8},
    "encoding":{"x":{"field":"x","type":"quantitative","scale":{"domain":[2.523,4.57],"nice":false,"zero":false},
       "axis":{"values":[2.602,2.699,2.778,2.845,2.903,2.954,3,3.301,3.477,3.602,3.699,3.778,3.845,3.903,3.954,4,4.301,4.477],"tickCount":100,"labelExpr":"datum.value==3?'10³':datum.value==4?'10⁴':''","tickSize":{"condition":{"test":"datum.value==3||datum.value==4","value":6},"value":3},"domain":false,"title":"H1299","titleFontSize":12,"labelFontWeight":"normal","labelFontSize":8,"labelFont":"Liberation Serif","labelPadding":3,"titlePadding":2,"labelOverlap":false,"labelFlush":false}},
     "y":{"field":"top","type":"quantitative","scale":{"domain":[0,6.15],"nice":false},"axis":{"orient":"right","values":[0,1,2,3,4],"tickCount":100,"labelExpr":"['MUC3A KD+EGF','NC+EGF','MUC3A KD','NC','Unstained'][datum.value]","domain":false,"ticks":false,"title":null,"labelFontSize":10,"labelPadding":10,"labelOverlap":false,"labelFlush":false}},
     "y2":{"field":"base"},
     "fill":{"field":"g","type":"nominal","scale":{"domain":["Unstained","NC","MUC3A KD","NC+EGF","MUC3A KD+EGF"],"range":["#f6a3aa","#86d5f2","#f8c594","#a4ec7c","#809f69"]},"legend":null}}},
   {"mark":{"type":"line","interpolate":"monotone","strokeWidth":1},
    "encoding":{"x":{"field":"x","type":"quantitative"},"y":{"field":"top","type":"quantitative"},
     "stroke":{"field":"g","type":"nominal","scale":{"domain":["Unstained","NC","MUC3A KD","NC+EGF","MUC3A KD+EGF"],"range":["#e4606d","#35b3df","#eea25e","#68cf40","#3d6626"]},"legend":null}}}
  ]}]},

 {"columns":2,"spacing":0,"bounds":"flush","align":"each","resolve":{"scale":{"color":"independent"}},"concat":[{"width":66,"height":667,"data":{"values":[]},"mark":"point"},{"width":1,"height":1,"data":{"values":[]},"mark":"point"},{"width":1,"height":1,"data":{"values":[]},"mark":"point"},
 {"width":167,"height":104,"data":{"name":"f1_bars"},
  "layer":[
   {"mark":{"type":"bar","width":22},"encoding":{"x":{"field":"cat","type":"nominal","scale":{"type":"band","domain":["Blank","NC","MUC3A KD","NC+EGF","MUC3A KD+EGF"],"paddingInner":0.3,"paddingOuter":0.3,"align":0.61},"axis":{"title":"H1975","titleFontSize":15,"labelAngle":-45,"labelFontSize":9,"titlePadding":0}},
     "y":{"field":"mean","type":"quantitative","scale":{"domain":[0,100000],"nice":false},"axis":{"values":[0,20000,40000,60000,80000,100000],"tickCount":100,"format":"d","title":"PD-L1 (MFI)","labelOverlap":false,"labelFlush":false}},
     "color":{"field":"cat","type":"nominal","scale":{"domain":["Blank","NC","MUC3A KD","NC+EGF","MUC3A KD+EGF"],"range":["#000000","#9b9b9f","#707070","#d0d0d0","#525252"]},"legend":null}}},
   {"mark":{"type":"rule","strokeWidth":1.5},"encoding":{"x":{"field":"cat","type":"nominal"},"y":{"field":"mean","type":"quantitative"},"y2":{"field":"upper"}}},
   {"mark":{"type":"tick","orient":"horizontal","size":11,"thickness":1.5,"color":"#000"},"encoding":{"x":{"field":"cat","type":"nominal"},"y":{"field":"upper","type":"quantitative"}}},
   {"data":{"name":"f1_sig"},"mark":{"type":"rule","strokeWidth":1.5},"encoding":{"x":{"field":"a","type":"nominal"},"x2":{"field":"b"},"y":{"field":"y","type":"quantitative"}}},
   {"data":{"name":"f1_sig"},"mark":{"type":"tick","orient":"vertical","size":8,"thickness":1.5,"color":"#000"},"encoding":{"x":{"field":"a","type":"nominal"},"y":{"field":"y","type":"quantitative"}}},
   {"data":{"name":"f1_sig"},"mark":{"type":"tick","orient":"vertical","size":8,"thickness":1.5,"color":"#000"},"encoding":{"x":{"field":"b","type":"nominal"},"y":{"field":"y","type":"quantitative"}}},
   {"data":{"name":"f1_sig"},"mark":{"type":"text","dx":5,"dy":-3,"fontSize":11,"baseline":"alphabetic"},"encoding":{"x":{"field":"a","type":"nominal","bandPosition":1},"y":{"field":"y","type":"quantitative"},"text":{"field":"label"}}}
  ]}]},

 {"columns":2,"spacing":0,"bounds":"flush","align":"each","resolve":{"scale":{"color":"independent"}},"concat":[{"width":294,"height":651,"data":{"values":[]},"mark":"point"},{"width":1,"height":1,"data":{"values":[]},"mark":"point"},{"width":1,"height":1,"data":{"values":[]},"mark":"point"},
 {"width":169,"height":113,"data":{"name":"f2_bars"},
  "layer":[
   {"mark":{"type":"bar","width":22},"encoding":{"x":{"field":"cat","type":"nominal","scale":{"type":"band","domain":["Unstained","NC","MUC3A KD","NC+EGF","MUC3A KD+EGF"],"paddingInner":0.3,"paddingOuter":0.33,"align":0.59},"axis":{"title":"PC9","titleFontSize":15,"labelAngle":-45,"labelFontSize":9,"titlePadding":0}},
     "y":{"field":"mean","type":"quantitative","scale":{"domain":[0,20000],"nice":false},"axis":{"values":[0,5000,10000,15000,20000],"tickCount":100,"format":"d","title":"PD-L1 (MFI)","labelOverlap":false,"labelFlush":false}},
     "color":{"field":"cat","type":"nominal","scale":{"domain":["Unstained","NC","MUC3A KD","NC+EGF","MUC3A KD+EGF"],"range":["#000000","#9b9b9f","#707070","#d0d0d0","#525252"]},"legend":null}}},
   {"mark":{"type":"rule","strokeWidth":1.5},"encoding":{"x":{"field":"cat","type":"nominal"},"y":{"field":"mean","type":"quantitative"},"y2":{"field":"upper"}}},
   {"mark":{"type":"tick","orient":"horizontal","size":11,"thickness":1.5,"color":"#000"},"encoding":{"x":{"field":"cat","type":"nominal"},"y":{"field":"upper","type":"quantitative"}}},
   {"data":{"name":"f2_sig"},"mark":{"type":"rule","strokeWidth":1.5},"encoding":{"x":{"field":"a","type":"nominal"},"x2":{"field":"b"},"y":{"field":"y","type":"quantitative"}}},
   {"data":{"name":"f2_sig"},"mark":{"type":"tick","orient":"vertical","size":8,"thickness":1.5,"color":"#000"},"encoding":{"x":{"field":"a","type":"nominal"},"y":{"field":"y","type":"quantitative"}}},
   {"data":{"name":"f2_sig"},"mark":{"type":"tick","orient":"vertical","size":8,"thickness":1.5,"color":"#000"},"encoding":{"x":{"field":"b","type":"nominal"},"y":{"field":"y","type":"quantitative"}}},
   {"data":{"name":"f2_sig"},"mark":{"type":"text","dx":5,"dy":-3,"fontSize":11,"baseline":"alphabetic"},"encoding":{"x":{"field":"a","type":"nominal","bandPosition":1},"y":{"field":"y","type":"quantitative"},"text":{"field":"label"}}}
  ]}]},

 {"columns":2,"spacing":0,"bounds":"flush","align":"each","resolve":{"scale":{"color":"independent"}},"concat":[{"width":522,"height":646,"data":{"values":[]},"mark":"point"},{"width":1,"height":1,"data":{"values":[]},"mark":"point"},{"width":1,"height":1,"data":{"values":[]},"mark":"point"},
 {"width":171,"height":116,"data":{"name":"f3_bars"},
  "layer":[
   {"mark":{"type":"bar","width":22},"encoding":{"x":{"field":"cat","type":"nominal","scale":{"type":"band","domain":["Unstained","NC","MUC3A KD","NC+EGF","MUC3A KD+EGF"],"paddingInner":0.32,"paddingOuter":0.31,"align":0.5},"axis":{"title":"H1299","titleFontSize":15,"labelAngle":-45,"labelFontSize":9,"titlePadding":0}},
     "y":{"field":"mean","type":"quantitative","scale":{"domain":[0,8000],"nice":false},"axis":{"values":[0,2000,4000,6000,8000],"tickCount":100,"format":"d","title":"PD-L1 (MFI)","labelOverlap":false,"labelFlush":false}},
     "color":{"field":"cat","type":"nominal","scale":{"domain":["Unstained","NC","MUC3A KD","NC+EGF","MUC3A KD+EGF"],"range":["#000000","#9b9b9f","#707070","#d0d0d0","#525252"]},"legend":null}}},
   {"mark":{"type":"rule","strokeWidth":1.5},"encoding":{"x":{"field":"cat","type":"nominal"},"y":{"field":"mean","type":"quantitative"},"y2":{"field":"upper"}}},
   {"mark":{"type":"tick","orient":"horizontal","size":11,"thickness":1.5,"color":"#000"},"encoding":{"x":{"field":"cat","type":"nominal"},"y":{"field":"upper","type":"quantitative"}}},
   {"data":{"name":"f3_sig"},"mark":{"type":"rule","strokeWidth":1.5},"encoding":{"x":{"field":"a","type":"nominal"},"x2":{"field":"b"},"y":{"field":"y","type":"quantitative"}}},
   {"data":{"name":"f3_sig"},"mark":{"type":"tick","orient":"vertical","size":8,"thickness":1.5,"color":"#000"},"encoding":{"x":{"field":"a","type":"nominal"},"y":{"field":"y","type":"quantitative"}}},
   {"data":{"name":"f3_sig"},"mark":{"type":"tick","orient":"vertical","size":8,"thickness":1.5,"color":"#000"},"encoding":{"x":{"field":"b","type":"nominal"},"y":{"field":"y","type":"quantitative"}}},
   {"data":{"name":"f3_sig"},"mark":{"type":"text","dx":5,"dy":-4,"fontSize":10,"baseline":"alphabetic"},"encoding":{"x":{"field":"a","type":"nominal","bandPosition":1},"y":{"field":"y","type":"quantitative"},"text":{"field":"label"}}}
  ]}]},

 {"columns":2,"spacing":0,"bounds":"flush","align":"each","resolve":{"scale":{"color":"independent"}},"concat":[{"width":71,"height":895,"data":{"values":[]},"mark":"point"},{"width":1,"height":1,"data":{"values":[]},"mark":"point"},{"width":1,"height":1,"data":{"values":[]},"mark":"point"},
 {"width":182,"height":110,"title":{"text":"PD-L1","fontSize":11,"offset":3},"data":{"name":"g1_bars"},
  "layer":[
   {"mark":{"type":"bar","width":29},"encoding":{"x":{"field":"cat","type":"nominal","scale":{"type":"band","domain":["NC","MUC3A(-)","NC+EGF","MUC3A(-)+EGF"],"paddingInner":0.31,"paddingOuter":0.3,"align":0.54},"axis":{"title":"H1975","titleFontSize":17,"labelAngle":-45,"labelFontSize":9,"titlePadding":3}},
     "y":{"field":"mean","type":"quantitative","scale":{"domain":[0,2.5],"nice":false},"axis":{"values":[0,0.5,1,1.5,2,2.5],"tickCount":100,"format":".1f","title":"Relative mRNA expression","titleFontWeight":"normal","titleFontSize":11,"labelFontSize":10,"labelOverlap":false,"labelFlush":false}},
     "color":{"field":"cat","type":"nominal","scale":{"domain":["NC","MUC3A(-)","NC+EGF","MUC3A(-)+EGF"],"range":["#000000","#949498","#6e6e6e","#c9c9c9"]},"legend":null}}},
   {"mark":{"type":"rule","strokeWidth":1.5},"encoding":{"x":{"field":"cat","type":"nominal"},"y":{"field":"mean","type":"quantitative"},"y2":{"field":"upper"}}},
   {"mark":{"type":"tick","orient":"horizontal","size":14,"thickness":1.5,"color":"#000"},"encoding":{"x":{"field":"cat","type":"nominal"},"y":{"field":"upper","type":"quantitative"}}},
   {"data":{"name":"g1_sig"},"mark":{"type":"rule","strokeWidth":1.5},"encoding":{"x":{"field":"a","type":"nominal"},"x2":{"field":"b"},"y":{"field":"y","type":"quantitative"}}},
   {"data":{"name":"g1_sig"},"mark":{"type":"tick","orient":"vertical","size":8,"thickness":1.5,"color":"#000"},"encoding":{"x":{"field":"a","type":"nominal"},"y":{"field":"y","type":"quantitative"}}},
   {"data":{"name":"g1_sig"},"mark":{"type":"tick","orient":"vertical","size":8,"thickness":1.5,"color":"#000"},"encoding":{"x":{"field":"b","type":"nominal"},"y":{"field":"y","type":"quantitative"}}},
   {"data":{"name":"g1_sig"},"mark":{"type":"text","dx":6,"dy":-3,"fontSize":12,"baseline":"alphabetic"},"encoding":{"x":{"field":"a","type":"nominal","bandPosition":1},"y":{"field":"y","type":"quantitative"},"text":{"field":"label"}}}
  ]}]},

 {"columns":2,"spacing":0,"bounds":"flush","align":"each","resolve":{"scale":{"color":"independent"}},"concat":[{"width":309,"height":885,"data":{"values":[]},"mark":"point"},{"width":1,"height":1,"data":{"values":[]},"mark":"point"},{"width":1,"height":1,"data":{"values":[]},"mark":"point"},
 {"width":181,"height":117,"data":{"name":"g2_bars"},
  "layer":[
   {"mark":{"type":"bar","width":29},"encoding":{"x":{"field":"cat","type":"nominal","scale":{"type":"band","domain":["NC","MUC3A KD","NC+EGF","MUC3A KD+EGF"],"paddingInner":0.29,"paddingOuter":0.35,"align":0.55},"axis":{"title":"PC9","titleFontSize":16,"labelAngle":-45,"labelFontSize":9,"titlePadding":2}},
     "y":{"field":"mean","type":"quantitative","scale":{"domain":[0,5],"nice":false},"axis":{"values":[0,1,2,3,4,5],"tickCount":100,"format":"d","title":"Relative PD-L1 mRNA levels","titleFontSize":11,"labelFontSize":10,"labelOverlap":false,"labelFlush":false}},
     "color":{"field":"cat","type":"nominal","scale":{"domain":["NC","MUC3A KD","NC+EGF","MUC3A KD+EGF"],"range":["#000000","#949498","#6e6e6e","#c9c9c9"]},"legend":null}}},
   {"mark":{"type":"rule","strokeWidth":1.5},"encoding":{"x":{"field":"cat","type":"nominal"},"y":{"field":"mean","type":"quantitative"},"y2":{"field":"upper"}}},
   {"mark":{"type":"tick","orient":"horizontal","size":14,"thickness":1.5,"color":"#000"},"encoding":{"x":{"field":"cat","type":"nominal"},"y":{"field":"upper","type":"quantitative"}}},
   {"data":{"name":"g2_sig"},"mark":{"type":"rule","strokeWidth":1.5},"encoding":{"x":{"field":"a","type":"nominal"},"x2":{"field":"b"},"y":{"field":"y","type":"quantitative"}}},
   {"data":{"name":"g2_sig"},"mark":{"type":"tick","orient":"vertical","size":8,"thickness":1.5,"color":"#000"},"encoding":{"x":{"field":"a","type":"nominal"},"y":{"field":"y","type":"quantitative"}}},
   {"data":{"name":"g2_sig"},"mark":{"type":"tick","orient":"vertical","size":8,"thickness":1.5,"color":"#000"},"encoding":{"x":{"field":"b","type":"nominal"},"y":{"field":"y","type":"quantitative"}}},
   {"data":{"name":"g2_sig"},"mark":{"type":"text","dx":6,"dy":-3,"fontSize":12,"baseline":"alphabetic"},"encoding":{"x":{"field":"a","type":"nominal","bandPosition":1},"y":{"field":"y","type":"quantitative"},"text":{"field":"label"}}}
  ]}]}
]
}
